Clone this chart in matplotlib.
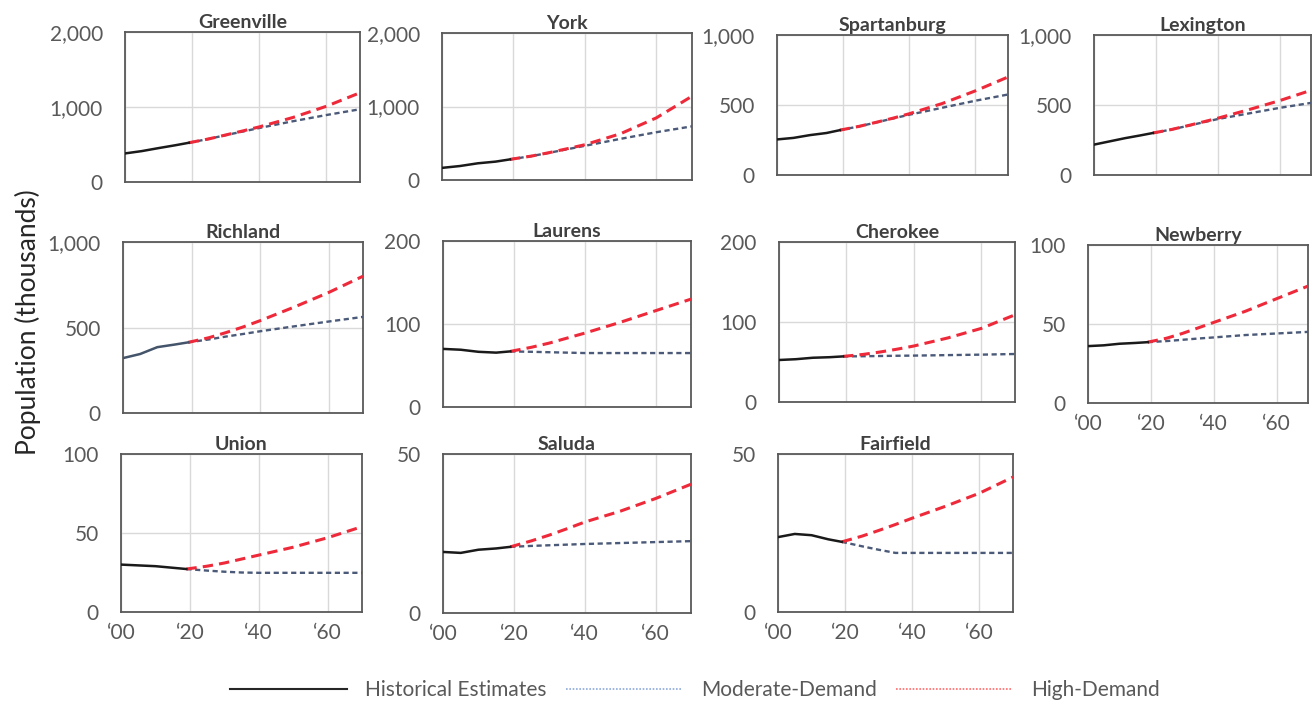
import matplotlib
matplotlib.use("Agg")
import matplotlib.pyplot as plt
from matplotlib.lines import Line2D
from matplotlib.ticker import FuncFormatter

plt.rcParams["font.family"] = ["Lato", "DejaVu Sans"]

# population in thousands
hist_years = [2000, 2005, 2010, 2015, 2019]
proj_years = [2019, 2025, 2030, 2035, 2040, 2050, 2060, 2070]

counties = ["Greenville", "York", "Spartanburg", "Lexington",
            "Richland", "Laurens", "Cherokee", "Newberry",
            "Union", "Saluda", "Fairfield"]

greenville_hist = [381, 412, 452, 490, 523]
greenville_mod = [523, 575, 625, 672, 720, 810, 893, 970]
greenville_high = [523, 575, 627, 680, 735, 860, 1010, 1190]

york_hist = [165, 190, 227, 250, 280]
york_mod = [280, 325, 370, 418, 465, 560, 650, 730]
york_high = [280, 325, 372, 425, 480, 630, 845, 1140]

spartanburg_hist = [254, 265, 285, 300, 320]
spartanburg_mod = [320, 348, 375, 403, 430, 480, 530, 575]
spartanburg_high = [320, 348, 376, 405, 437, 510, 600, 700]

lexington_hist = [217, 240, 263, 283, 300]
lexington_mod = [300, 325, 350, 375, 400, 440, 480, 515]
lexington_high = [300, 325, 351, 378, 406, 467, 532, 605]

richland_hist = [321, 345, 385, 400, 413]
richland_mod = [413, 430, 447, 462, 478, 507, 535, 562]
richland_high = [413, 440, 470, 503, 540, 620, 705, 800]

laurens_hist = [70, 69, 66.5, 65.5, 67]
laurens_mod = [67, 66.5, 66, 65.5, 65, 65, 65, 65]
laurens_high = [67, 72, 77, 83, 89, 102, 116, 130]

cherokee_hist = [52.5, 53.5, 55.3, 56, 57]
cherokee_mod = [57, 57.2, 57.5, 57.8, 58, 58.6, 59.2, 60]
cherokee_high = [57, 59.5, 62.5, 66, 70, 80, 92, 109]

newberry_hist = [36, 36.5, 37.5, 38, 38.5]
newberry_mod = [38.5, 39.2, 40, 40.8, 41.5, 43, 44, 45]
newberry_high = [38.5, 41, 44, 47.5, 51, 58, 66, 74]

union_hist = [30, 29.5, 29, 28, 27.2]
union_mod = [27.2, 26.2, 25.5, 25, 24.8, 24.8, 24.8, 24.8]
union_high = [27.2, 29, 31, 33.5, 36, 41, 47, 54]

saluda_hist = [19.2, 18.9, 19.9, 20.3, 20.8]
saluda_mod = [20.8, 21.1, 21.3, 21.5, 21.7, 22, 22.3, 22.6]
saluda_high = [20.8, 22.7, 24.5, 26.5, 28.6, 32, 36, 40.5]

fairfield_hist = [23.7, 24.7, 24.3, 23, 22.2]
fairfield_mod = [22.2, 20.8, 19.7, 18.7, 18.7, 18.7, 18.7, 18.7]
fairfield_high = [22.2, 24, 25.8, 27.7, 29.7, 33.5, 37.6, 42.7]

hist = [greenville_hist, york_hist, spartanburg_hist, lexington_hist, richland_hist,
        laurens_hist, cherokee_hist, newberry_hist, union_hist, saluda_hist, fairfield_hist]
moderate = [greenville_mod, york_mod, spartanburg_mod, lexington_mod, richland_mod,
            laurens_mod, cherokee_mod, newberry_mod, union_mod, saluda_mod, fairfield_mod]
high = [greenville_high, york_high, spartanburg_high, lexington_high, richland_high,
        laurens_high, cherokee_high, newberry_high, union_high, saluda_high, fairfield_high]

y_ticks = [[0, 1000, 2000], [0, 1000, 2000], [0, 500, 1000], [0, 500, 1000],
           [0, 500, 1000], [0, 100, 200], [0, 100, 200], [0, 50, 100],
           [0, 50, 100], [0, 50], [0, 50]]

x_ticks = [2000, 2020, 2040, 2060]
x_labels = ["\u201800", "\u201820", "\u201840", "\u201860"]

# axes boxes in pixels (x0, y0, x1, y1), measured from the top-left
boxes = [(125, 32, 360, 182), (442, 33, 692, 180), (777, 35, 1008, 175), (1094, 35, 1311, 175),
         (123, 242, 363, 413), (443, 241, 691, 407), (779, 242, 1015, 402), (1088, 245, 1308, 403),
         (121, 454, 362, 612), (443, 454, 691, 613), (778, 454, 1013, 612)]
show_x = ["Newberry", "Union", "Saluda", "Fairfield"]

W, H = 1314, 704
fig = plt.figure(figsize=(W / 100, H / 100), dpi=100)

for i, name in enumerate(counties):
    x0, y0, x1, y1 = boxes[i]
    ax = fig.add_axes([x0 / W, 1 - y1 / H, (x1 - x0) / W, (y1 - y0) / H])

    hist_color = "#44546a" if name == "Richland" else "#1a1a1a"
    ax.plot(proj_years, moderate[i], color="#4b5a78", lw=1.7, dashes=(2.2, 1.5), zorder=3)
    ax.plot(proj_years, high[i], color="#ee2a3a", lw=2.2, dashes=(3.4, 2.0), zorder=4)
    ax.plot(hist_years, hist[i], color=hist_color, lw=1.8, zorder=5)

    ax.set_xlim(2000, 2070)
    ax.set_ylim(y_ticks[i][0], y_ticks[i][-1])
    ax.set_yticks(y_ticks[i])
    ax.yaxis.set_major_formatter(FuncFormatter(lambda v, p: f"{int(v):,}"))
    ax.set_xticks(x_ticks)
    if name in show_x:
        ax.set_xticklabels(x_labels)
    else:
        ax.set_xticklabels([])
    ax.tick_params(length=0, labelsize=15, labelcolor="#595959")
    ax.tick_params(axis="y", pad=16)
    ax.tick_params(axis="x", pad=8)
    ax.grid(True, color="#d9d9d9", lw=1)
    ax.set_axisbelow(True)
    for sp in ax.spines.values():
        sp.set_color("#595959")
        sp.set_linewidth(1.3)
    ax.set_title(name, fontsize=14, fontweight="bold", color="#404040", pad=3)

fig.text(28 / W, 1 - 322 / H, "Population (thousands)", rotation=90, fontsize=19,
         color="#262626", ha="center", va="center")

handles = [Line2D([], [], color="#262626", lw=1.5),
           Line2D([], [], color="#8ea9db", lw=1.2, linestyle=(0, (1, 1))),
           Line2D([], [], color="#ff6b6b", lw=1.2, linestyle=(0, (1, 1)))]
fig.legend(handles, ["Historical Estimates", "Moderate-Demand", "High-Demand"],
           loc="center", bbox_to_anchor=(695 / W, 1 - 690 / H), ncol=3, frameon=False,
           fontsize=15, labelcolor="#595959", handlelength=5.6, handletextpad=0.9,
           columnspacing=0.9)

fig.savefig("out.png", dpi=100)
